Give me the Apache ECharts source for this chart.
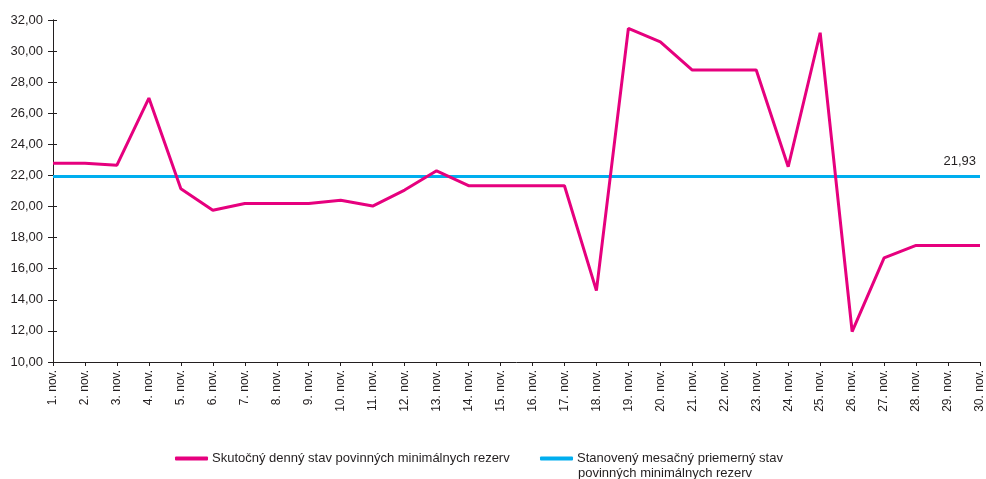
<!DOCTYPE html>
<html>
<head>
<meta charset="utf-8">
<script src="https://cdn.jsdelivr.net/npm/echarts@6/dist/echarts.min.js"></script>
<style>
  html, body { margin: 0; padding: 0; background: #fff; }
  #chart { width: 986px; height: 479px; }
</style>
</head>
<body>
<div id="chart"></div>
<script>
// dni v novembri
var days = [];
for (var d = 1; d <= 30; d++) days.push(d + '. nov.');

// skutočný denný stav povinných minimálnych rezerv
var actual = [
  22.78, 22.78, 22.66, 26.98, 21.14, 19.76, 20.20, 20.20, 20.20, 20.40,
  20.03, 21.06, 22.30, 21.34, 21.34, 21.34, 21.34, 14.59, 31.46, 30.60,
  28.78, 28.78, 28.78, 22.56, 31.18, 11.95, 16.70, 17.50, 17.50, 17.50
];

// stanovený mesačný priemerný stav
var average = 21.93;
var averageLine = days.map(function () { return average; });

var seriesNames = [
  'Skutočný denný stav povinných minimálnych rezerv',
  'Stanovený mesačný priemerný stav'
];
var legendSecondLine = 'povinných minimálnych rezerv';

var yTicks = { min: 10, max: 32, interval: 2 };

var font = 'Liberation Sans, Arial, Helvetica, sans-serif';
var textColor = '#231f20';
var pink = '#e6007e';
var blue = '#00aeef';

function fmt(v) { return v.toFixed(2).replace('.', ','); }

var legendBase = {
  top: 452, padding: 0,
  icon: 'roundRect', itemWidth: 33, itemHeight: 4, itemGap: 4,
  textStyle: { fontSize: 13, color: textColor, fontFamily: font, padding: [0, 0, 0, -1] }
};

var chart = echarts.init(document.getElementById('chart'));
chart.setOption({
  animation: false,
  textStyle: { fontFamily: font, color: textColor },
  grid: { left: 53, right: 5, top: 20, bottom: 117, containLabel: false },
  legend: [
    Object.assign({}, legendBase, { data: [seriesNames[0]], left: 175 }),
    Object.assign({}, legendBase, { data: [seriesNames[1]], left: 540 })
  ],
  graphic: [{
    type: 'text', left: 578, top: 467,
    style: { text: legendSecondLine, fontSize: 13, fontFamily: font, fill: textColor }
  }],
  xAxis: {
    type: 'category',
    data: days,
    boundaryGap: false,
    axisLine: { lineStyle: { color: textColor, width: 1 } },
    axisTick: { show: true, length: 4, alignWithLabel: true, lineStyle: { color: textColor } },
    axisLabel: { rotate: 90, interval: 0, fontSize: 12, color: textColor, margin: 8 },
    splitLine: { show: false }
  },
  yAxis: [{
    type: 'value',
    min: yTicks.min, max: yTicks.max, interval: yTicks.interval,
    axisLine: { show: true, lineStyle: { color: textColor, width: 1 } },
    axisTick: { show: true, length: 5, lineStyle: { color: textColor } },
    axisLabel: { formatter: fmt, fontSize: 13, color: textColor, margin: 10 },
    splitLine: { show: false }
  }, {
    type: 'value', position: 'left',
    min: yTicks.min, max: yTicks.max, interval: yTicks.interval,
    axisLine: { show: true, lineStyle: { color: textColor, width: 1 } },
    axisTick: { show: true, inside: true, length: 4, lineStyle: { color: textColor } },
    axisLabel: { show: false },
    splitLine: { show: false }
  }],
  series: [{
    name: seriesNames[0],
    type: 'line',
    data: actual,
    symbol: 'none',
    color: pink,
    lineStyle: { color: pink, width: 3 },
    z: 3
  }, {
    name: seriesNames[1],
    type: 'line',
    data: averageLine,
    symbol: 'none',
    color: blue,
    lineStyle: { color: blue, width: 3 },
    z: 2,
    endLabel: {
      show: true,
      formatter: function () { return fmt(average); },
      distance: 0, align: 'right', verticalAlign: 'bottom', offset: [-4, -9],
      fontSize: 13, color: textColor, fontFamily: font
    }
  }]
});
</script>
</body>
</html>
